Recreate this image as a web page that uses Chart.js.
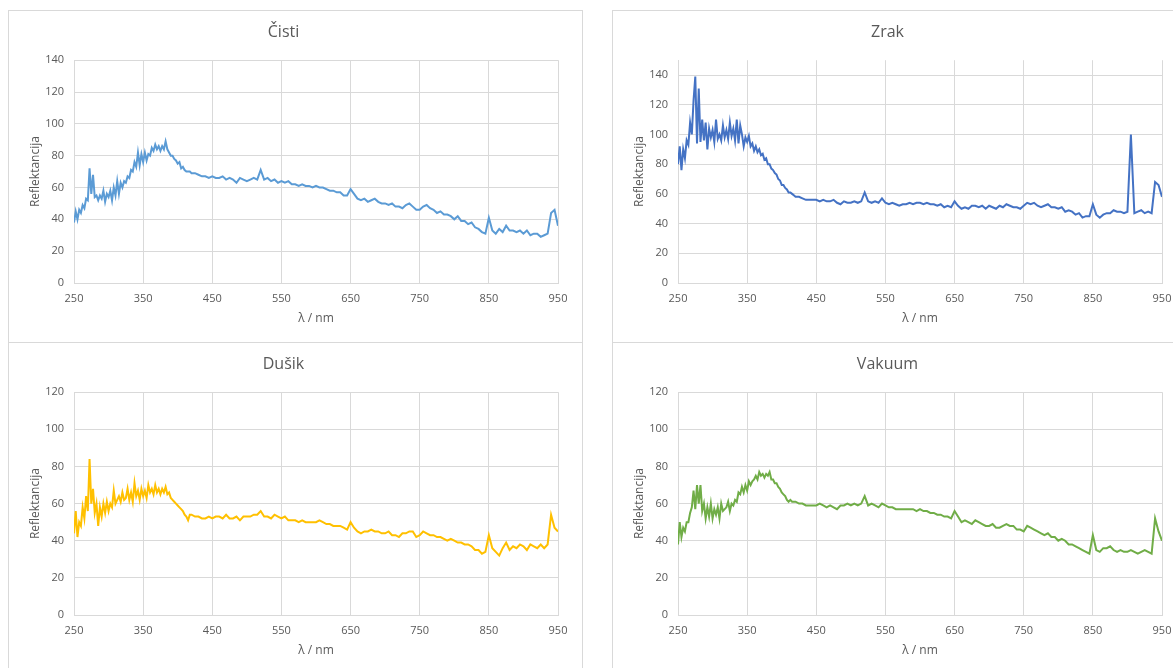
<!DOCTYPE html>
<html>
<head>
<meta charset="utf-8">
<script src="https://cdn.jsdelivr.net/npm/chart.js@4/dist/chart.umd.min.js"></script>
<style>
  html, body { margin: 0; padding: 0; background: #fff; width: 1173px; height: 668px; overflow: hidden; }
  .panel { position: absolute; border: 1px solid #d9d9d9; background: #fff; width: 573px; height: 331px; }
  .panel canvas { display: block; }
</style>
</head>
<body>
<div class="panel" style="left:8px; top:10px;"><canvas id="c1" width="573" height="331"></canvas></div>
<div class="panel" style="left:612px; top:10px;"><canvas id="c2" width="573" height="331"></canvas></div>
<div class="panel" style="left:8px; top:342px;"><canvas id="c3" width="573" height="331"></canvas></div>
<div class="panel" style="left:612px; top:342px;"><canvas id="c4" width="573" height="331"></canvas></div>
<script>
// Wavelengths (nm): 2.5 nm steps in the noisy UV part, 5 nm steps afterwards
const wavelengths = [
  250,252.5,255,257.5,260,262.5,265,267.5,270,272.5,
  275,277.5,280,282.5,285,287.5,290,292.5,295,297.5,
  300,302.5,305,307.5,310,312.5,315,317.5,320,322.5,
  325,327.5,330,332.5,335,337.5,340,342.5,345,347.5,
  350,352.5,355,357.5,360,362.5,365,367.5,370,372.5,
  375,377.5,380,382.5,385,387.5,390,392.5,395,397.5,
  400,402.5,405,407.5,410,412.5,415,417.5,
  420,
  425,430,435,440,445,
  450,455,460,465,470,475,480,485,490,495,
  500,505,510,515,520,525,530,535,540,545,
  550,555,560,565,570,575,580,585,590,595,
  600,605,610,615,620,625,630,635,640,645,
  650,655,660,665,670,675,680,685,690,695,
  700,705,710,715,720,725,730,735,740,745,
  750,755,760,765,770,775,780,785,790,795,
  800,805,810,815,820,825,830,835,840,845,
  850,855,860,865,870,875,880,885,890,895,
  900,905,910,915,920,925,930,935,940,945,
  950
];

const cistiValues = [
  38,45,40,46,44,49,47,53,52,72,
  56,68,54,55,52,55,53,58,51,56,
  54,58,52,60,55,64,56,63,60,64,
  63,67,66,71,70,76,73,82,74,81,
  76,82,77,81,80,85,83,87,84,86,
  83,86,84,89,84,82,80,80,78,77,
  75,76,72,73,71,70,70,70,
  69,
  69,68,67,67,66,
  67,66,66,67,65,66,65,63,66,65,
  64,65,66,65,71,65,66,64,65,63,
  64,63,64,62,62,61,62,61,61,60,
  61,60,60,59,58,58,57,57,55,55,
  59,56,53,52,53,51,52,53,51,50,
  50,49,50,48,48,47,49,50,48,46,
  46,48,49,47,46,44,45,43,43,42,
  40,42,39,39,37,38,35,34,32,31,
  41,33,31,34,32,36,33,33,32,33,
  31,33,30,31,31,29,30,31,44,46,
  36
];

const zrakValues = [
  80,92,76,90,84,96,93,108,100,123,
  139,94,131,95,110,96,108,90,104,98,
  103,95,110,97,100,96,106,98,103,97,
  108,99,104,96,110,94,106,100,92,98,
  95,99,92,94,89,92,88,90,86,87,
  83,84,80,80,77,76,74,73,70,69,
  66,66,64,63,61,61,60,59,
  58,
  58,57,56,56,56,
  56,55,56,55,55,56,54,53,55,54,
  54,55,54,55,61,55,54,55,54,57,
  54,53,54,53,52,53,53,54,53,54,
  54,53,54,53,53,52,53,51,52,51,
  55,52,50,51,50,52,52,51,52,50,
  52,51,50,52,51,53,52,51,51,50,
  52,54,53,54,52,51,52,53,51,51,
  50,51,48,49,48,46,47,44,45,45,
  53,46,44,46,47,47,49,48,48,47,
  48,100,47,48,49,47,48,47,68,66,
  58
];

const dusikValues = [
  44,56,42,50,48,58,52,64,56,84,
  60,68,55,60,48,58,53,60,55,61,
  56,60,58,67,60,62,64,61,66,62,
  63,68,62,66,61,71,64,67,62,68,
  64,67,63,70,66,68,65,70,66,68,
  65,68,66,69,65,66,63,62,61,60,
  59,58,57,56,54,53,51,54,
  54,
  53,53,52,52,53,
  52,53,53,52,54,52,52,53,51,53,
  53,53,54,54,56,53,53,52,54,53,
  52,53,51,51,51,50,51,50,50,50,
  50,51,50,49,49,48,48,48,47,46,
  50,47,45,44,45,45,46,45,45,44,
  44,45,43,43,42,44,44,45,45,42,
  43,45,44,43,43,42,42,41,40,41,
  40,39,39,38,38,37,35,35,33,34,
  43,36,34,32,36,39,35,37,36,38,
  37,35,38,37,36,38,36,38,54,47,
  45
];

const vakuumValues = [
  38,50,42,47,45,50,50,55,58,67,
  57,70,60,70,56,60,52,58,53,60,
  52,57,54,58,52,60,56,57,58,61,
  56,60,59,62,61,66,65,69,66,70,
  67,72,70,72,73,75,73,77,75,76,
  74,76,75,77,73,73,71,71,69,68,
  66,65,64,62,61,62,61,61,
  61,
  60,60,59,59,59,
  59,60,59,58,59,58,57,59,59,60,
  59,60,59,60,64,59,60,59,58,60,
  59,58,58,57,57,57,57,57,57,56,
  57,56,56,55,55,54,54,53,53,52,
  56,53,50,51,50,49,51,50,49,48,
  48,49,47,47,48,49,48,48,46,46,
  45,48,47,46,45,44,43,44,42,42,
  40,41,40,38,38,37,36,35,34,33,
  43,35,34,36,36,37,35,34,35,34,
  34,35,34,33,34,35,34,33,52,45,
  40
];

const panelTitles = ['Čisti', 'Zrak', 'Dušik', 'Vakuum'];
const panelColors = ['#5B9BD5', '#4472C4', '#FFC000', '#70AD47'];
const yMax = [140, 150, 120, 120];
const xTickStep = 100;
const yTickStep = 20;
const xTitle = 'λ / nm';
const yTitle = 'Reflektancija';

const FONT = "'Open Sans', 'Liberation Sans', sans-serif";
const TXT = '#595959';
const GRID = '#d9d9d9';

function makeChart(id, title, values, color, ymax) {
  const pts = wavelengths.map((w, i) => ({ x: w, y: values[i] }));
  return new Chart(document.getElementById(id), {
    type: 'line',
    data: { datasets: [{ data: pts, borderColor: color, borderWidth: 2, pointRadius: 0, tension: 0, fill: false }] },
    options: {
      responsive: false,
      animation: false,
      events: [],
      layout: { padding: { left: 0, right: 24, top: 0, bottom: 0 } },
      plugins: {
        legend: { display: false },
        tooltip: { enabled: false },
        title: {
          display: true, text: title, color: TXT,
          font: { family: FONT, size: 16, weight: 'normal' },
          padding: { top: 12, bottom: 18 }
        }
      },
      scales: {
        x: {
          type: 'linear', min: 250, max: 950,
          ticks: { stepSize: xTickStep, color: TXT, font: { family: FONT, size: 11 }, padding: 9, maxRotation: 0, autoSkip: false },
          grid: { color: GRID, lineWidth: 1, drawTicks: false },
          border: { color: GRID },
          title: { display: true, text: xTitle, color: TXT, font: { family: FONT, size: 12 }, padding: { top: 0, bottom: 16 } },
          afterFit: s => { s.height = 59; }
        },
        y: {
          type: 'linear', min: 0, max: ymax,
          ticks: { stepSize: yTickStep, includeBounds: false, color: TXT, font: { family: FONT, size: 11 }, padding: 10 },
          grid: { color: GRID, lineWidth: 1, drawTicks: false },
          border: { color: GRID },
          title: { display: true, text: yTitle, color: TXT, font: { family: FONT, size: 12 }, padding: { top: 19, bottom: 0 } },
          afterFit: s => { s.width = 65; }
        }
      }
    }
  });
}

makeChart('c1', panelTitles[0], cistiValues, panelColors[0], yMax[0]);
makeChart('c2', panelTitles[1], zrakValues, panelColors[1], yMax[1]);
makeChart('c3', panelTitles[2], dusikValues, panelColors[2], yMax[2]);
makeChart('c4', panelTitles[3], vakuumValues, panelColors[3], yMax[3]);
</script>
</body>
</html>
